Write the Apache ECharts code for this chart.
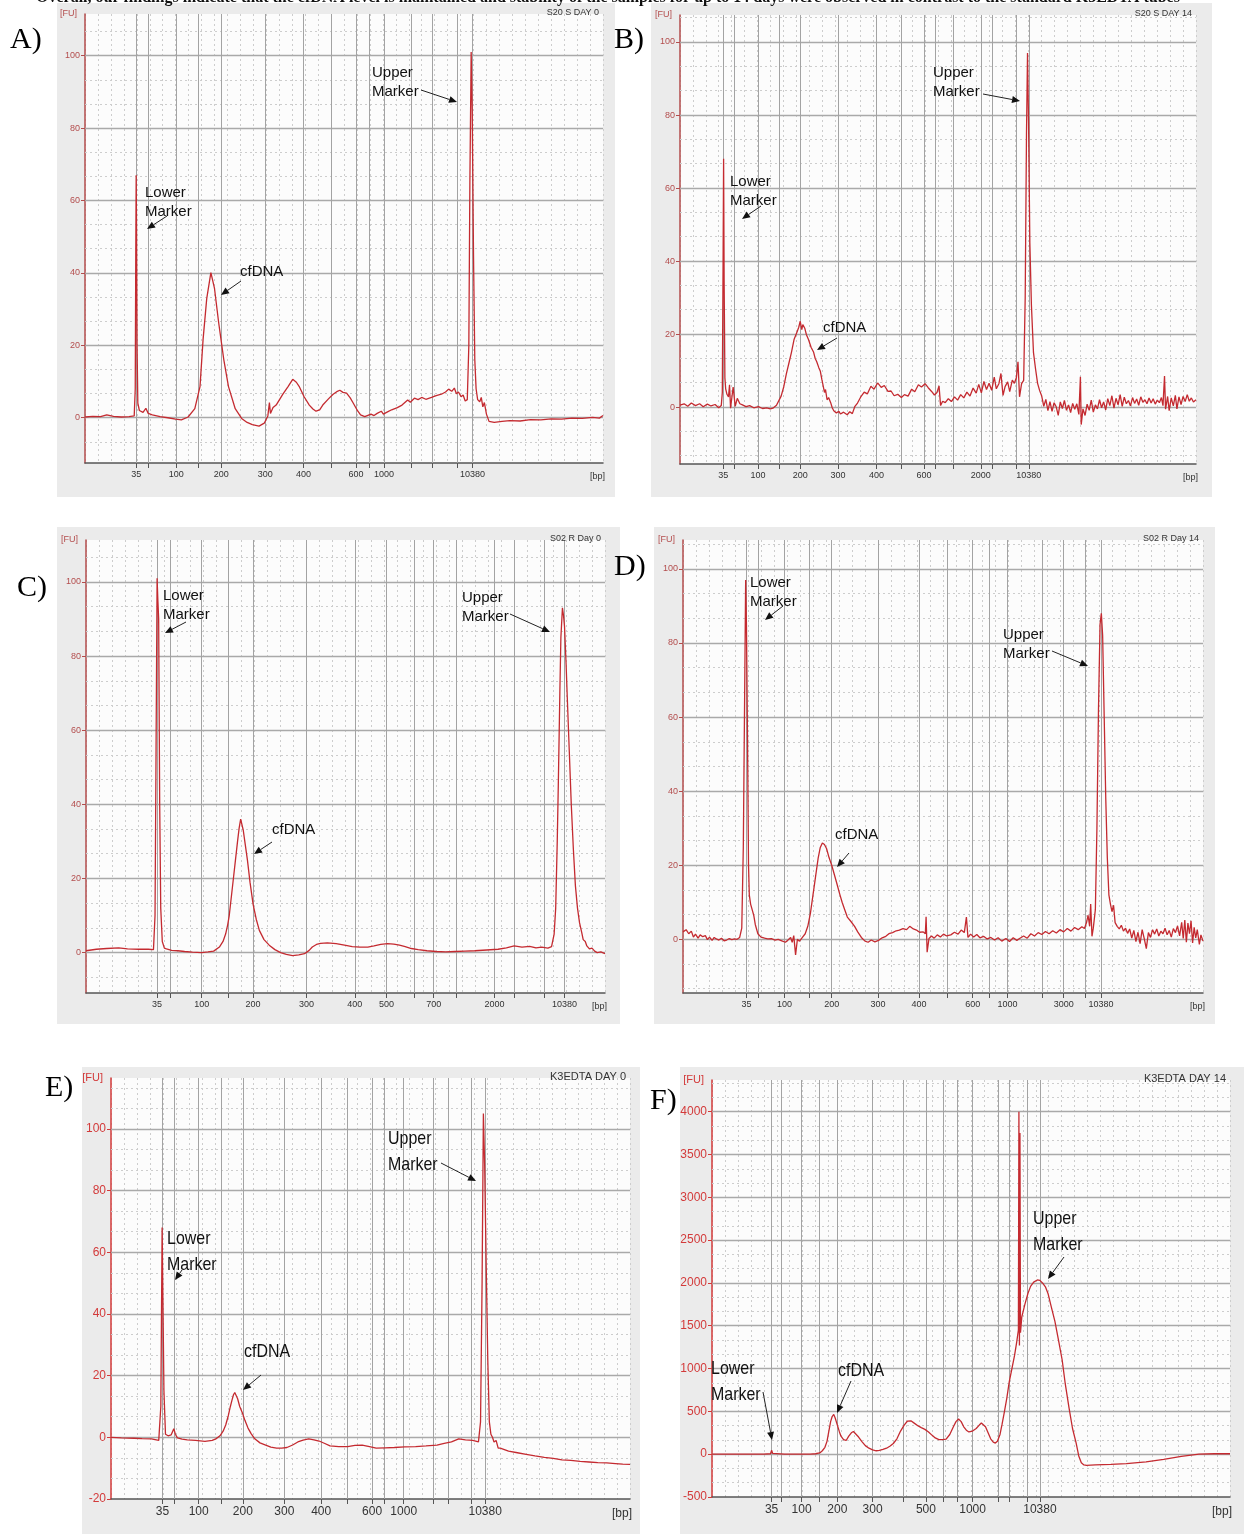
<!DOCTYPE html>
<html>
<head>
<meta charset="utf-8">
<script src="https://cdn.jsdelivr.net/npm/echarts@6/dist/echarts.min.js"></script>
<style>
  body { margin: 0; background: #fff; }
  #main { width: 1249px; height: 1534px; }
</style>
</head>
<body>
<div id="main"></div>
<script>
// ladder sizes (bp) and where each one sits on the run axis (percent of plot width)
var ladderBp = [35, 50, 100, 150, 200, 300, 400, 500, 600, 700, 1000, 2000, 3000, 7000, 10380];
var ladderPosA = [9.9, 12.2, 17.6, 21.9, 26.3, 34.8, 42.2, 47.5, 52.3, 54.9, 57.7, 63.0, 67.0, 71.8, 74.8];
var ladderPosB = [8.4, 10.5, 15.1, 19.2, 23.3, 30.6, 38.1, 42.8, 47.3, 49.4, 52.9, 58.3, 60.5, 65.1, 67.6];
var ladderPosC = [13.7, 16.2, 22.3, 27.4, 32.2, 42.5, 51.8, 57.9, 63.2, 67.0, 71.4, 78.7, 82.5, 88.2, 92.2];
var ladderPosD = [12.2, 14.5, 19.5, 24.3, 28.6, 37.5, 45.4, 50.8, 55.7, 58.9, 62.4, 69.0, 73.2, 77.3, 80.4];
var ladderPosE = [9.9, 12.2, 16.9, 21.2, 25.4, 33.4, 40.5, 45.6, 50.3, 52.6, 56.4, 62.1, 65.0, 69.5, 72.1];
var ladderPosF = [11.5, 13.4, 17.3, 20.8, 24.2, 31.0, 37.0, 41.3, 44.7, 47.4, 50.3, 55.2, 57.4, 60.9, 63.3];

// tick labels printed under each x axis
var shownA = [35, 100, 200, 300, 400, 600, 1000, 10380];
var shownB = [35, 100, 200, 300, 400, 600, 2000, 10380];
var shownC = [35, 100, 200, 300, 400, 500, 700, 2000, 10380];
var shownD = [35, 100, 200, 300, 400, 600, 1000, 3000, 10380];
var shownE = [35, 100, 200, 300, 400, 600, 1000, 10380];
var shownF = [35, 100, 200, 300, 500, 1000, 10380];

var fuTicks = [0, 20, 40, 60, 80, 100];
var fuTicksE = [-20, 0, 20, 40, 60, 80, 100];
var fuTicksF = [-500, 0, 500, 1000, 1500, 2000, 2500, 3000, 3500, 4000];

// traces: run position (%) and fluorescence [FU]
var posA = [0,1.5,3,4.2,5.5,7,8.5,9.5,9.7,9.8,9.88,9.95,10.05,10.2,10.5,11.2,11.75,12.2,13,14.5,16,17.5,18.6,19.9,21.2,22.2,22.8,23.5,24.3,25.0,25.8,26.8,27.7,29.0,30.3,31.3,32.3,33.6,34.6,35.3,35.6,35.8,36.3,36.9,38.2,39.2,40.1,40.8,41.4,42.3,43.3,44.0,44.6,45.3,45.9,47.0,47.9,48.6,49.2,49.8,50.5,51.2,51.8,52.5,53.2,54.0,54.5,55.2,55.8,56.4,57.2,57.6,58.4,59.2,60.3,61.2,62.3,62.8,63.6,64.3,65.0,65.8,66.9,67.8,68.8,69.6,70.2,70.8,71.3,71.7,72.1,72.6,73.0,73.4,73.8,74.1,74.3,74.55,74.75,75.0,75.25,75.5,75.8,76.2,76.5,76.8,77.1,77.5,78.0,79.0,80.5,82,84,86,88,90,92,94,96,98,99.3,100];
var fuA = [0.2,0.4,0.3,0.8,0.4,0.2,0.3,0.5,8,45,67,52,20,4,2,1.5,2.6,1.2,0.8,0.3,0,-0.4,-0.6,0.2,2.5,8.6,21.7,32.9,40.1,35.7,26.3,16,8.6,2.5,-0.3,-1.3,-1.9,-2.3,-1.5,0.5,4.2,1.2,2.8,3.5,6.5,8.6,10.6,9.8,8.5,5.8,3.5,2.4,1.8,2.2,3.5,5.2,6.5,7.2,7.6,7.0,6.8,5.5,4.0,2.2,0.8,0.3,0.6,1.0,0.6,1.2,1.8,1.0,1.6,2.2,2.8,3.5,4.9,4.3,5.4,5.0,5.6,5.1,5.6,6.1,6.5,7.1,7.9,7.3,8.2,6.6,7.1,5.8,6.3,4.6,5.0,20,65,101,85,45,16,8,5,4.4,5.6,3.0,4.2,1.0,-1.0,-1.3,-1.0,-0.8,-0.9,-0.5,-0.6,-0.3,-0.4,-0.1,-0.2,0.1,-0.1,0.6];

var posB = [0,0.8,1.5,2.2,3.0,3.8,4.5,5.3,6.0,6.8,7.5,8.0,8.2,8.35,8.45,8.55,8.7,8.85,9.1,9.4,9.6,9.8,10.3,10.7,11.1,11.6,12.1,12.8,13.5,14.3,15.2,16.0,16.8,17.5,18.0,18.7,19.6,20.1,20.6,21.1,21.6,22.1,22.6,23.0,23.3,23.6,23.8,24.2,24.5,24.9,25.4,25.9,26.2,26.5,26.9,27.2,27.5,27.8,28.0,28.2,28.5,28.8,29.2,29.5,29.8,30.3,30.8,31.1,31.7,32.4,32.9,33.4,33.9,34.4,35.0,35.7,36.3,37.0,37.6,38.3,39.0,39.6,40.3,40.9,41.5,42.2,42.9,43.5,44.2,44.9,45.5,46.2,46.8,47.5,48.1,48.8,49.3,49.8,50.2,50.5,50.9,51.4,52.0,52.6,53.2,53.8,54.4,55.0,55.6,56.2,56.8,57.4,57.9,58.4,58.9,59.4,59.9,60.4,60.9,61.3,61.8,62.2,62.6,63.0,63.5,63.9,64.4,64.8,65.2,65.5,65.8,66.2,66.6,66.9,67.15,67.35,67.55,67.8,68.1,68.5,68.9,69.3,69.7,70.1,70.5,70.9,71.3,71.7,72.1,72.5,72.9,73.3,73.7,74.1,74.5,74.9,75.3,75.7,76.1,76.5,76.9,77.3,77.6,77.75,78.1,78.5,78.9,79.3,79.7,80.1,80.5,80.9,81.3,81.7,82.1,82.5,82.9,83.3,83.7,84.1,84.5,84.9,85.3,85.7,86.1,86.5,86.9,87.3,87.7,88.1,88.5,88.9,89.3,89.7,90.1,90.5,90.9,91.3,91.7,92.1,92.5,92.9,93.3,93.6,93.9,94.1,94.5,94.8,95.2,95.6,96.0,96.3,96.7,97.1,97.5,97.9,98.3,98.7,99.1,99.5,100];
var fuB = [0.5,0.9,0.2,1.1,0.4,0.9,0.1,0.8,0.3,0.7,-0.2,0.4,4,40,68,35,8,5,3.5,2.8,6.1,-0.3,5.5,0.2,2.4,0.9,0.6,0.1,0.4,-0.2,0.1,-0.4,-0.2,-0.5,-0.3,0.5,3,5.5,9,12,15,18.5,20.3,21.8,23.5,21.2,22.6,21.5,19.8,18.5,16.4,15,13.3,12.4,10.8,9.8,7.5,7.2,4.0,4.8,2.0,2.6,1.2,-0.2,-1.0,-1.6,-1.2,-1.9,-1.4,-2.1,-1.3,-1.8,0.2,1.1,2.7,4.1,3.6,5.7,4.9,6.6,5.4,5.9,4.3,4.4,3.1,3.5,2.6,3.4,3.0,4.9,4.2,6.1,5.5,6.4,5.3,4.2,3.3,4.0,5.8,0.4,1.6,1.2,2.3,1.5,2.8,1.9,3.4,2.5,4.1,3.0,5.2,3.8,6.2,3.9,7.0,4.8,6.5,4.6,8.2,5.0,6.4,9.2,3.2,5.6,6.9,4.2,7.4,6.5,8.1,12.4,2.8,6.4,7.3,30,75,97,78,45,28,15,10.5,6.5,4.5,3.0,0.2,2.1,-1.0,1.5,-1.2,1.2,0.1,-2.3,1.4,-0.4,1.8,-0.9,0.6,-1.5,1.0,-0.6,0.9,-2.0,8.3,-4.8,-0.5,-2.3,0.8,-0.9,1.9,-1.4,0.6,-0.5,2.0,-0.2,1.4,-0.8,2.3,0.4,3.1,-0.3,2.4,0.6,3.4,0.2,2.7,0.9,1.8,0.3,2.6,1.0,2.2,0.5,2.8,1.3,2.0,0.9,2.5,1.1,2.3,0.8,1.9,1.2,2.6,0.4,8.5,-0.6,2.9,-1.0,2.5,0.3,3.2,-0.5,2.8,0.7,2.9,1.5,3.4,1.6,2.5,1.4,2.0];

var posC = [0,2,4,6.3,8,10.1,12,13.0,13.3,13.5,13.7,13.85,14.0,14.2,14.4,14.7,15.1,15.5,16.5,17.7,19,20.5,22.3,23.5,24.6,25.7,26.4,26.9,27.3,27.6,28.0,28.4,28.8,29.2,29.5,29.8,30.0,30.3,30.7,31.1,31.6,32.2,32.8,33.4,34.3,35.3,36.4,37.5,38.6,39.8,41.0,42.1,43.0,43.6,44.4,45.2,46.5,48.2,49.8,51.3,52.8,54.3,55.5,56.8,58.1,59.3,60.4,61.5,62.7,64.0,65.7,67.5,69.3,71.1,73.0,74.9,77.2,79.4,81.0,82.5,84.0,85.5,86.7,87.8,89.0,89.7,90.2,90.5,90.8,91.0,91.3,91.5,91.8,92.0,92.2,92.5,92.7,93.1,93.5,93.9,94.3,94.7,95.1,95.5,95.8,96.2,96.5,97.0,97.5,98.0,98.5,99.2,100];
var fuC = [0.5,0.9,1.1,1.3,1.0,0.9,0.9,0.8,10,55,101,95,90,40,12,3,1.2,1.0,0.6,0.5,0.3,0.1,0.0,0.2,0.4,1.5,3,5,7.5,10,15,20,25,30,33.5,36,35.5,33,29,25,19,13,9,6,3.5,2.0,0.8,0,-0.5,-0.8,-0.6,-0.3,0.6,1.5,2.2,2.5,2.6,2.4,2.0,1.6,1.5,1.5,1.8,2.2,2.4,2.3,2.0,1.6,1.1,0.8,0.5,0.3,0.2,0.3,0.4,0.5,0.7,0.9,1.3,1.8,1.5,1.7,1.3,1.5,1.2,1.6,5,12,30,45,70,85,93,91,88,78,70,55,40,28,18,12,8,5.5,3.5,3.0,1.8,1.0,1.2,0.4,0.0,0.2,-0.3];

var posD = [0,0.6,1.1,1.6,2.0,2.4,2.9,3.3,3.8,4.3,4.7,5.1,5.6,6.0,6.4,6.9,7.4,7.9,8.4,8.9,9.4,9.9,10.4,10.9,11.3,11.6,11.85,12.05,12.2,12.4,12.6,12.75,13.0,13.3,13.6,13.9,14.4,15.0,15.7,16.3,17.0,17.7,18.3,19.0,19.7,20.2,20.7,21.0,21.3,21.65,22.0,22.4,23.0,23.5,24.0,24.5,25.0,25.5,26.0,26.4,26.8,27.2,27.6,28.1,28.6,29.1,29.6,30.1,30.6,31.1,31.6,32.3,33.0,33.6,34.3,35.0,35.6,36.2,36.9,37.6,38.3,39.0,39.6,40.3,41.0,41.6,42.3,43.0,43.6,44.3,44.9,45.5,46.2,46.6,46.75,46.95,47.3,47.8,48.3,48.9,49.5,50.1,50.7,51.5,52.2,52.9,53.5,54.1,54.5,54.8,55.3,55.9,56.5,57.1,57.8,58.5,59.2,59.9,60.6,61.3,62.1,62.8,63.5,64.2,64.8,65.5,66.2,66.9,67.6,68.3,69.0,69.7,70.4,71.1,71.8,72.5,73.2,73.9,74.6,75.3,76.0,76.7,77.2,77.6,77.9,78.2,78.4,78.65,78.9,79.3,79.6,79.9,80.2,80.45,80.7,81.0,81.3,81.6,81.9,82.2,82.5,82.8,83.1,83.5,83.9,84.3,84.7,85.1,85.5,85.9,86.3,86.7,87.1,87.5,87.9,88.3,88.7,89.1,89.5,89.9,90.3,90.7,91.1,91.5,91.9,92.3,92.7,93.1,93.5,93.9,94.3,94.7,95.1,95.5,95.9,96.2,96.5,96.8,97.1,97.4,97.7,98.0,98.3,98.6,98.9,99.3,99.6,100];
var fuD = [2.0,2.6,1.5,2.2,0.6,1.4,0.3,1.2,0.7,1.0,-0.1,0.6,-0.3,0.5,0.1,-0.2,0.3,-0.4,-0.2,0.2,-0.1,0.1,0,0.5,3,25,65,97,85,55,20,12,9.5,8,6.5,4,1.5,0.6,0.3,0.1,0.2,-0.2,0.0,-0.4,-0.8,-0.2,0.5,-0.8,1.0,-4.2,0.0,-0.5,0.6,1.5,3.5,7,12,17,22,24.8,26,25.6,24.5,22,20,17.5,15,12.4,10,8,6,4.8,3.5,2.0,0.5,-0.5,-0.8,-0.2,-0.7,-0.3,0.4,0.8,1.5,1.8,2.3,2.5,2.9,2.6,3.5,2.8,2.5,1.9,2.0,1.5,6.1,-3.5,0.2,0.9,0.3,1.2,0.6,1.4,0.9,1.2,1.9,1.4,2.5,1.8,6.0,0.5,1.4,0.6,1.3,0.4,0.8,0.1,0.5,-0.2,0.4,-0.5,0.2,-0.6,0.4,-0.3,0.3,0.9,0.3,1.5,0.9,1.8,1.3,2.1,1.5,2.3,1.7,2.6,2.0,2.9,2.2,3.2,2.6,3.4,2.9,4.5,6.5,3.5,9.5,0.8,3.0,8,30,62,85,88,82,60,38,22,12,9.5,7.5,9.2,4.5,3.5,2.8,3.8,2.2,3.0,1.6,2.8,0.3,2.4,-0.6,1.9,-1.2,2.6,0.2,-2.5,1.8,0.5,2.6,1.4,2.8,0.9,2.2,1.5,3.0,1.2,2.4,0.6,2.9,1.8,3.6,0.9,4.6,0.2,5.2,-0.8,4.4,1.5,5.0,-1.0,3.2,0.4,2.6,-1.4,1.2,-0.5];

var posE = [0,2,4.4,6,7.8,9.2,9.6,9.85,10.0,10.2,10.5,11.0,11.6,12.1,12.4,12.8,13.7,14.7,16.3,18.1,19.5,20.2,21.0,21.6,22.1,22.6,23.0,23.3,23.6,23.85,24.1,24.4,24.8,25.3,25.8,26.4,27.0,27.7,28.7,29.8,30.8,31.9,32.9,33.9,35.0,36.0,37.0,38.1,39.1,40.1,41.2,42.2,43.9,45.6,47.0,48.4,49.8,51.1,52.8,54.6,56.6,58.7,60.7,62.8,64.2,65.6,67.0,68.3,69.7,70.8,71.2,71.5,71.75,72.0,72.3,72.6,72.9,73.2,73.5,73.8,74.2,74.6,75.0,76.6,78.3,80.0,81.7,83.5,85.2,86.9,88.6,90.4,92.1,93.8,95.5,97.2,98.6,100];
var fuE = [0,-0.2,-0.3,-0.4,-0.5,-1,10,68,45,15,1,0.5,0.8,2.8,1.0,-0.2,-0.6,-0.8,-1.0,-1.3,-1.0,-0.5,0.5,2,4,7,10,12,13.8,14.5,14,12.5,10,8,5.5,3,1.2,-0.5,-1.8,-2.5,-3.2,-3.5,-3.5,-3.3,-2.5,-1.5,-0.9,-0.5,-0.8,-1.2,-2.0,-2.8,-3.0,-3.0,-2.6,-2.5,-3.0,-3.5,-3.4,-3.3,-3.1,-3.0,-2.8,-2.5,-2.0,-1.5,-0.5,-0.8,-1.0,-1.5,5,50,105,88,55,25,5,1,0,-1.5,-1,-3.5,-3.5,-4.5,-5.0,-5.5,-6.0,-6.5,-6.8,-7.3,-7.5,-7.8,-8.0,-8.2,-8.3,-8.5,-8.7,-8.8];

var posF = [0,5,10,11.3,11.5,11.7,12.0,14,17,19,20.0,20.8,21.3,21.8,22.2,22.5,22.9,23.2,23.5,23.8,24.2,24.6,24.9,25.4,25.9,26.4,26.9,27.3,27.6,28.3,28.9,29.6,30.3,31.0,31.7,32.3,33.0,33.7,34.4,35.0,35.7,36.4,37.1,37.7,38.4,39.1,39.8,40.4,41.1,41.8,42.5,43.1,43.8,44.5,45.2,45.9,46.6,47.1,47.6,48.1,48.6,49.1,49.6,50.3,51.0,51.6,52.0,52.3,52.8,53.3,53.8,54.3,54.7,55.1,55.6,56.0,56.4,56.9,57.4,57.9,58.4,58.8,59.15,59.25,59.35,59.45,59.55,59.8,60.4,61.0,61.5,62.1,62.8,63.3,63.8,64.4,64.9,65.5,66.2,66.9,67.6,68.2,68.9,69.6,70.3,70.8,71.3,71.8,72.3,74,77.0,80,83.8,87.2,90.6,94.0,97,100];
var fuF = [0,0,0,5,45,10,5,0,0,0,5,15,40,80,150,250,380,440,465,420,340,260,210,170,160,210,250,265,255,200,150,100,70,50,40,45,55,70,95,125,180,270,340,385,390,360,330,310,290,260,220,190,170,170,175,230,320,380,410,380,320,280,260,270,300,340,365,370,320,250,180,140,130,150,230,350,480,650,850,1000,1150,1300,1450,4000,1270,3750,1420,1600,1750,1880,1960,2010,2035,2030,2000,1950,1870,1720,1550,1330,1100,820,550,300,130,-20,-100,-125,-130,-125,-120,-110,-90,-60,-25,0,5,5];

var panels = [
  { grid: {left: 85, top: 14, width: 518, height: 449}, yMin: -12.5, yMax: 111.5, major: 20,
    pos: posA, fu: fuA, ladder: ladderPosA, shown: shownA, fuTicks: fuTicks, big: false,
    title: 'S20 S DAY 0', bg: [57, 3, 558, 494], letter: 'A)', letterXY: [10, 40],
    notes: [
      {t: 'Lower\nMarker', x: 145, y: 183, a: [167, 216, 147, 229]},
      {t: 'cfDNA', x: 240, y: 262, a: [241, 281, 221, 295]},
      {t: 'Upper\nMarker', x: 372, y: 63, a: [421, 90, 457, 102]}
    ]},
  { grid: {left: 680, top: 15, width: 516, height: 449}, yMin: -15.6, yMax: 107.4, major: 20,
    pos: posB, fu: fuB, ladder: ladderPosB, shown: shownB, fuTicks: fuTicks, big: false,
    title: 'S20 S DAY 14', bg: [651, 3, 561, 494], letter: 'B)', letterXY: [614, 40],
    notes: [
      {t: 'Lower\nMarker', x: 730, y: 172, a: [761, 206, 742, 219]},
      {t: 'cfDNA', x: 823, y: 318, a: [837, 338, 817, 350]},
      {t: 'Upper\nMarker', x: 933, y: 63, a: [983, 94, 1020, 101]}
    ]},
  { grid: {left: 86, top: 540, width: 519, height: 453}, yMin: -10.9, yMax: 111.3, major: 20,
    pos: posC, fu: fuC, ladder: ladderPosC, shown: shownC, fuTicks: fuTicks, big: false,
    title: 'S02 R Day 0', bg: [57, 527, 563, 497], letter: 'C)', letterXY: [17, 588],
    notes: [
      {t: 'Lower\nMarker', x: 163, y: 586, a: [186, 622, 165, 633]},
      {t: 'cfDNA', x: 272, y: 820, a: [272, 842, 254, 854]},
      {t: 'Upper\nMarker', x: 462, y: 588, a: [510, 614, 550, 632]}
    ]},
  { grid: {left: 683, top: 540, width: 520, height: 453}, yMin: -14.5, yMax: 107.8, major: 20,
    pos: posD, fu: fuD, ladder: ladderPosD, shown: shownD, fuTicks: fuTicks, big: false,
    title: 'S02 R Day 14', bg: [654, 527, 561, 497], letter: 'D)', letterXY: [614, 567],
    notes: [
      {t: 'Lower\nMarker', x: 750, y: 573, a: [783, 606, 765, 620]},
      {t: 'cfDNA', x: 835, y: 825, a: [849, 853, 837, 867]},
      {t: 'Upper\nMarker', x: 1003, y: 625, a: [1052, 651, 1088, 666]}
    ]},
  { grid: {left: 111, top: 1078, width: 519, height: 421}, yMin: -20, yMax: 116.5, major: 20,
    pos: posE, fu: fuE, ladder: ladderPosE, shown: shownE, fuTicks: fuTicksE, big: true,
    title: 'K3EDTA DAY 0', bg: [82, 1067, 558, 467], letter: 'E)', letterXY: [45, 1088],
    notes: [
      {t: 'Lower\nMarker', x: 167, y: 1226, a: [182, 1270, 175, 1280]},
      {t: 'cfDNA', x: 244, y: 1339, a: [261, 1375, 243, 1390]},
      {t: 'Upper\nMarker', x: 388, y: 1126, a: [441, 1163, 476, 1181]}
    ]},
  { grid: {left: 712, top: 1080, width: 518, height: 417}, yMin: -500, yMax: 4370, major: 500,
    pos: posF, fu: fuF, ladder: ladderPosF, shown: shownF, fuTicks: fuTicksF, big: true,
    title: 'K3EDTA DAY 14', bg: [680, 1067, 564, 467], letter: 'F)', letterXY: [650, 1101],
    notes: [
      {t: 'Lower\nMarker', x: 711, y: 1356, a: [763, 1392, 772, 1440]},
      {t: 'cfDNA', x: 838, y: 1358, a: [851, 1381, 837, 1413]},
      {t: 'Upper\nMarker', x: 1033, y: 1206, a: [1064, 1257, 1048, 1279]}
    ]}
];

var chart = echarts.init(document.getElementById('main'));

function arrow(x1, y1, x2, y2) {
  var ang = Math.atan2(y2 - y1, x2 - x1), L = 8, W = 3.5;
  var bx = x2 - L * Math.cos(ang), by = y2 - L * Math.sin(ang);
  var px = -Math.sin(ang) * W, py = Math.cos(ang) * W;
  return [
    {type: 'line', z: 100, shape: {x1: x1, y1: y1, x2: bx, y2: by}, style: {stroke: '#222', lineWidth: 1}},
    {type: 'polygon', z: 100, shape: {points: [[x2, y2], [bx + px, by + py], [bx - px, by - py]]}, style: {fill: '#111'}}
  ];
}

var grids = [], xAxes = [], yAxes = [], series = [], graphics = [];

// cut line of body text above the figure
graphics.push({type: 'text', z: 100, style: {
  text: 'Overall, our findings indicate that the cfDNA level is maintained and stability of the samples for up to 14 days were observed in contrast to the standard K3EDTA tubes',
  x: 36, y: -10, font: 'bold 16px "Liberation Serif"', fill: '#111', textVerticalAlign: 'top'}});

panels.forEach(function (p, i) {
  var fs = p.big ? 12 : 9;
  grids.push({left: p.grid.left, top: p.grid.top, width: p.grid.width, height: p.grid.height,
    show: true, backgroundColor: '#fcfcfc', borderWidth: 0});

  // main axis: ladder ticks and bp labels
  xAxes.push({
    gridIndex: i, type: 'value', min: 0, max: 100,
    axisLine: {show: true, onZero: false, lineStyle: {color: '#555', width: 1.5}},
    axisTick: {show: true, customValues: p.ladder, length: 5, lineStyle: {color: '#555'}},
    axisLabel: {
      customValues: p.ladder.filter(function (v, k) { return p.shown.indexOf(ladderBp[k]) >= 0; }),
      formatter: function (v) {
        for (var k = 0; k < p.ladder.length; k++) { if (Math.abs(p.ladder[k] - v) < 1e-6) return String(ladderBp[k]); }
        return '';
      },
      fontSize: fs, color: '#333', margin: 7, fontFamily: 'Liberation Sans'
    },
    splitLine: {show: false},
    name: '[bp]', nameLocation: 'end', nameGap: 2,
    nameTextStyle: {fontSize: fs, color: '#333', align: 'right', verticalAlign: 'top', padding: [9, 0, 0, 0]}
  });
  // second axis only for the dotted run-time grid
  xAxes.push({
    gridIndex: i, type: 'value', min: 0, max: 100, interval: 2.5,
    axisLine: {show: false}, axisTick: {show: false}, axisLabel: {show: false},
    splitLine: {show: true, lineStyle: {color: '#cdcdcd', width: 1, type: [2, 3]}}
  });

  var ycol = p.big ? '#d33a3a' : '#b34d4d';
  yAxes.push({
    gridIndex: i, type: 'value', min: p.yMin, max: p.yMax,
    axisLine: {show: true, lineStyle: {color: ycol, width: 1.5}},
    axisTick: {show: true, customValues: p.fuTicks, length: 4, lineStyle: {color: ycol}},
    axisLabel: {customValues: p.fuTicks, fontSize: fs, color: ycol, margin: 5, fontFamily: 'Liberation Sans',
      formatter: function (v) { return String(v); }},
    splitLine: {show: false},
    name: '[FU]', nameLocation: 'end', nameGap: 0,
    nameTextStyle: {fontSize: p.big ? 11 : 9, color: ycol, align: 'right', verticalAlign: 'middle', padding: [0, 8, 0, 0]}
  });

  // grid lines: solid at FU majors and ladder sizes, dotted in thirds between majors
  var lines = [];
  var minor = p.major / 3;
  for (var k = Math.ceil(p.yMin / minor - 1e-6); k * minor <= p.yMax + 1e-6; k++) {
    var v = k * minor;
    if (Math.abs(v - p.yMin) < 1e-6) continue;
    var isMajor = Math.abs(v / p.major - Math.round(v / p.major)) < 1e-6;
    lines.push({yAxis: v, lineStyle: isMajor ? {color: '#a9a9a9', width: 1.3, type: 'solid'} : {color: '#cdcdcd', width: 1, type: [2, 3]}});
  }
  p.ladder.forEach(function (x) {
    lines.push({xAxis: x, lineStyle: {color: '#a3a3a3', width: 1, type: 'solid'}});
  });
  series.push({
    type: 'line', xAxisIndex: 2 * i, yAxisIndex: i, data: [], silent: true, z: 1,
    markLine: {silent: true, symbol: 'none', animation: false, label: {show: false}, data: lines}
  });

  series.push({
    type: 'line', xAxisIndex: 2 * i, yAxisIndex: i, z: 5,
    data: p.pos.map(function (x, k) { return [x, p.fu[k]]; }),
    showSymbol: false, animation: false,
    lineStyle: {color: '#c42a30', width: 1.3}
  });

  // panel frame, letter, run title
  graphics.push({type: 'rect', z: -10, shape: {x: p.bg[0], y: p.bg[1], width: p.bg[2], height: p.bg[3]},
    style: {fill: '#ebebeb'}});
  graphics.push({type: 'text', z: 100, style: {text: p.letter, x: p.letterXY[0], y: p.letterXY[1],
    font: '30px "Liberation Serif"', fill: '#000', textVerticalAlign: 'middle'}});
  graphics.push({type: 'text', z: 100, style: {text: p.title, x: p.grid.left + p.grid.width - 4, y: p.grid.top - 1,
    font: (p.big ? '11px' : '9px') + ' "Liberation Sans"', fill: '#333', textAlign: 'right', textVerticalAlign: 'middle'}});

  p.notes.forEach(function (n) {
    if (p.big) {
      // bottom panels use a taller, condensed lettering
      graphics.push({type: 'text', z: 100, x: n.x, y: n.y, scaleX: 0.84, style: {text: n.t, x: 0, y: 0,
        font: '19px "Liberation Sans"', lineHeight: 26, fill: '#111', textVerticalAlign: 'top'}});
    } else {
      graphics.push({type: 'text', z: 100, style: {text: n.t, x: n.x, y: n.y,
        font: '15px "Liberation Sans"', lineHeight: 19, fill: '#111', textVerticalAlign: 'top'}});
    }
    graphics = graphics.concat(arrow(n.a[0], n.a[1], n.a[2], n.a[3]));
  });
});

chart.setOption({
  animation: false,
  backgroundColor: '#ffffff',
  grid: grids,
  xAxis: xAxes,
  yAxis: yAxes,
  series: series,
  graphic: graphics
});
</script>
</body>
</html>
